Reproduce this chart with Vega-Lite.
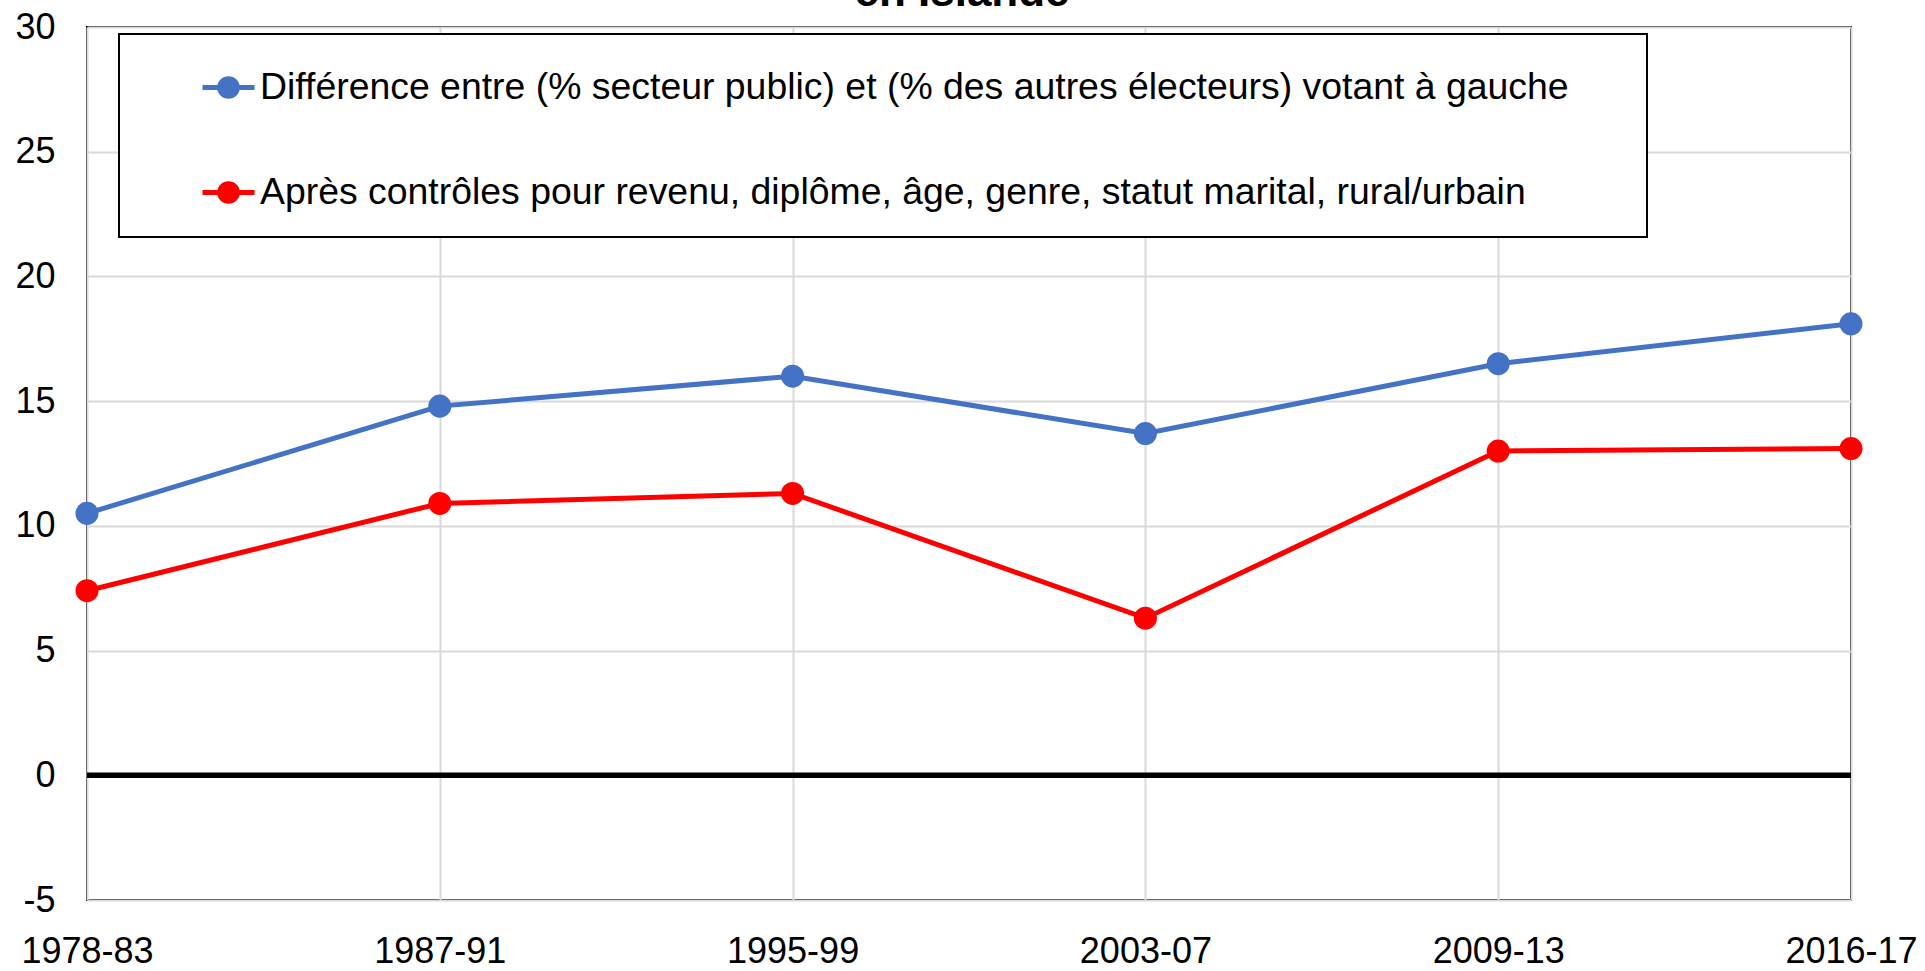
{
  "$schema": "https://vega.github.io/schema/vega-lite/v6.json",
  "width": 1764,
  "height": 873,
  "autosize": {"type": "none"},
  "padding": {"left": 87, "top": 27, "right": 74, "bottom": 71},
  "background": "white",
  "title": {"text": "en Islande", "fontSize": 44, "fontWeight": "bold", "font": "Liberation Sans", "anchor": "middle", "baseline": "alphabetic", "offset": 0, "dy": 41, "dx": -7, "color": "black"},
  "config": {"view": {"stroke": "black", "strokeWidth": 2}, "font": "Liberation Sans"},
  "datasets": {
    "series": [
      {"period": "1978-83", "serie": "Différence entre (% secteur public) et (% des autres électeurs) votant à gauche", "value": 10.5},
      {"period": "1987-91", "serie": "Différence entre (% secteur public) et (% des autres électeurs) votant à gauche", "value": 14.8},
      {"period": "1995-99", "serie": "Différence entre (% secteur public) et (% des autres électeurs) votant à gauche", "value": 16.0},
      {"period": "2003-07", "serie": "Différence entre (% secteur public) et (% des autres électeurs) votant à gauche", "value": 13.7},
      {"period": "2009-13", "serie": "Différence entre (% secteur public) et (% des autres électeurs) votant à gauche", "value": 16.5},
      {"period": "2016-17", "serie": "Différence entre (% secteur public) et (% des autres électeurs) votant à gauche", "value": 18.1},
      {"period": "1978-83", "serie": "Après contrôles pour revenu, diplôme, âge, genre, statut marital, rural/urbain", "value": 7.4},
      {"period": "1987-91", "serie": "Après contrôles pour revenu, diplôme, âge, genre, statut marital, rural/urbain", "value": 10.9},
      {"period": "1995-99", "serie": "Après contrôles pour revenu, diplôme, âge, genre, statut marital, rural/urbain", "value": 11.3},
      {"period": "2003-07", "serie": "Après contrôles pour revenu, diplôme, âge, genre, statut marital, rural/urbain", "value": 6.3},
      {"period": "2009-13", "serie": "Après contrôles pour revenu, diplôme, âge, genre, statut marital, rural/urbain", "value": 13.0},
      {"period": "2016-17", "serie": "Après contrôles pour revenu, diplôme, âge, genre, statut marital, rural/urbain", "value": 13.1}
    ],
    "zero": [{"zero": 0}]
  },
  "layer": [
    {
      "data": {"name": "series"},
      "mark": {"type": "line", "strokeWidth": 5},
      "encoding": {
        "x": {
          "field": "period", "type": "ordinal", "sort": null,
          "scale": {"type": "point", "padding": 0},
          "axis": {"title": null, "labelAngle": 0, "labelFontSize": 36, "labelPadding": 34, "ticks": false, "domain": false, "grid": true, "gridColor": "#d9d9d9", "gridWidth": 2, "labelColor": "black", "labelFont": "Liberation Sans"}
        },
        "y": {
          "field": "value", "type": "quantitative",
          "scale": {"domain": [-5, 30], "nice": false, "zero": false},
          "axis": {"values": [-5, 0, 5, 10, 15, 20, 25, 30], "labelExpr": "datum.value < 0 ? '-' + abs(datum.value) : datum.label", "title": null, "labelFontSize": 36, "labelPadding": 32, "ticks": false, "domain": false, "grid": true, "gridColor": "#d9d9d9", "gridWidth": 2, "labelColor": "black", "labelFont": "Liberation Sans"}
        },
        "color": {
          "field": "serie", "type": "nominal",
          "scale": {"domain": ["Différence entre (% secteur public) et (% des autres électeurs) votant à gauche", "Après contrôles pour revenu, diplôme, âge, genre, statut marital, rural/urbain"], "range": ["#4472C4", "#FF0000"]},
          "legend": {
            "title": "\u00a0", "titleOrient": "right", "titlePadding": 53, "titleFontSize": 10, "titleColor": "white",
            "orient": "none", "legendX": 32, "legendY": 7,
            "strokeColor": "black", "fillColor": "white",
            "padding": 25, "symbolOffset": 56,
            "symbolType": "M-1,0H1M-0.34,0A0.34,0.34 0 1,0 0.34,0A0.34,0.34 0 1,0 -0.34,0Z",
            "symbolSize": 2704, "symbolStrokeWidth": 5,
            "labelFontSize": 37.4, "labelFont": "Liberation Sans", "labelColor": "black", "labelLimit": 2000, "labelOffset": 3,
            "rowPadding": 57,
            "encode": {
              "legend": {"update": {"strokeWidth": {"value": 2}}},
              "symbols": {"update": {"fill": {"scale": "color", "field": "value"}, "stroke": {"scale": "color", "field": "value"}, "strokeWidth": {"value": 5}, "opacity": {"value": 1}}}
            }
          }
        }
      }
    },
    {
      "data": {"name": "series"},
      "mark": {"type": "point", "filled": true, "size": 530, "opacity": 1},
      "encoding": {
        "x": {"field": "period", "type": "ordinal", "sort": null},
        "y": {"field": "value", "type": "quantitative"},
        "color": {"field": "serie", "type": "nominal", "legend": null}
      }
    },
    {
      "data": {"name": "zero"},
      "mark": {"type": "rule", "color": "black", "strokeWidth": 5.5},
      "encoding": {"y": {"field": "zero", "type": "quantitative"}}
    }
  ]
}
